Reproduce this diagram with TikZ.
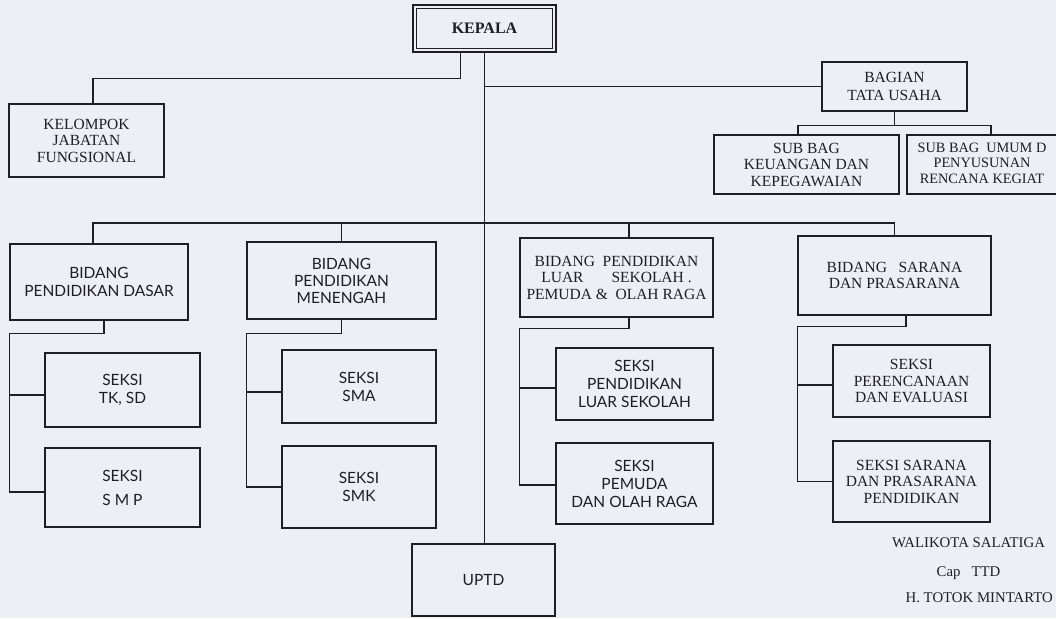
\documentclass[tikz,border=0pt]{standalone}
\usepackage{fontspec}
\setmainfont{Liberation Serif}
\newfontfamily\gsans{Lato}
\definecolor{bg}{RGB}{236,239,243}
\definecolor{ink}{RGB}{30,30,35}
\begin{document}
\begin{tikzpicture}[x=1pt,y=-1pt,
 orgbox/.style={draw=ink, line width=1.2pt, rectangle, inner sep=0pt, align=center, text=ink},
 serifbox/.style={orgbox, font=\fontsize{15.5}{16.5}\selectfont},
 sansbox/.style={orgbox, font=\gsans\fontsize{15.5}{18}\selectfont},
 conn/.style={draw=ink, line width=1.2pt},
 sig/.style={text=ink, font=\fontsize{14.8}{16}\selectfont, inner sep=0pt}]
\fill[bg] (0,0) rectangle (1056,618);
\useasboundingbox (0,0) rectangle (1056,618);
\clip (0,0) rectangle (1056,618);

% boxes
\node[serifbox, minimum width=143pt, minimum height=47pt, line width=2.6pt, font=\bfseries\fontsize{16}{17}\selectfont] (kepala) at (484.5,28.5) {KEPALA};
\draw[ink, line width=1pt] ([shift={(4.5,4.5)}]kepala.north west) rectangle ([shift={(-4.5,-4.5)}]kepala.south east);

\node[serifbox, minimum width=155pt, minimum height=73pt] (kelompok) at (86.5,140.5) {KELOMPOK\\JABATAN\\FUNGSIONAL};
\node[serifbox, minimum width=145pt, minimum height=49pt] (bagian) at (894.5,86.5) {BAGIAN\\[2pt]TATA USAHA};
\node[serifbox, minimum width=185pt, minimum height=59pt] (keuangan) at (806.5,164.5) {SUB BAG\\KEUANGAN DAN\\KEPEGAWAIAN};
\node[orgbox, minimum width=163pt, minimum height=59pt] (umum) at (988.5,164.5) {};
\node[text=ink, align=center, inner sep=0pt, font=\fontsize{14.3}{15.5}\selectfont] (umumtext) at (982,163) {SUB BAG~~UMUM D\\PENYUSUNAN\\RENCANA KEGIAT};

\node[sansbox, minimum width=178pt, minimum height=76pt] (bdasar) at (99,282) {BIDANG\\PENDIDIKAN DASAR};
\node[sansbox, minimum width=189pt, minimum height=77pt, font=\gsans\fontsize{15.5}{17}\selectfont] (bmenengah) at (341.5,280.5) {BIDANG\\PENDIDIKAN\\MENENGAH};
\node[serifbox, minimum width=193pt, minimum height=79pt] (bpls) at (616.5,277.5) {BIDANG~~PENDIDIKAN\\LUAR\hspace{28pt}SEKOLAH .\\PEMUDA \&~~OLAH RAGA};
\node[serifbox, minimum width=193pt, minimum height=79pt] (bsarana) at (894.5,275.5) {BIDANG~~~SARANA\\DAN PRASARANA};

\node[sansbox, minimum width=155pt, minimum height=74pt] (tksd) at (122.5,390) {SEKSI\\TK, SD};
\node[sansbox, minimum width=155pt, minimum height=79pt] (smp) at (122.5,487.5) {SEKSI\\[6pt]S M P};
\node[sansbox, minimum width=154pt, minimum height=73pt] (sma) at (359,386.5) {SEKSI\\SMA};
\node[sansbox, minimum width=154pt, minimum height=82pt] (smk) at (359,487) {SEKSI\\SMK};
\node[sansbox, minimum width=157pt, minimum height=72pt] (spls) at (634.5,384) {SEKSI\\PENDIDIKAN\\LUAR SEKOLAH};
\node[sansbox, minimum width=157pt, minimum height=81pt] (spemuda) at (634.5,483.5) {SEKSI\\PEMUDA\\DAN OLAH RAGA};
\node[serifbox, minimum width=157pt, minimum height=72pt] (sperenc) at (911.5,381) {SEKSI\\PERENCANAAN\\DAN EVALUASI};
\node[serifbox, minimum width=157pt, minimum height=81pt] (ssarana) at (911.5,481.5) {SEKSI~SARANA\\DAN PRASARANA\\PENDIDIKAN};
\node[sansbox, minimum width=143pt, minimum height=72pt] (uptd) at (483.5,580) {UPTD};

% signature
\node[sig] (sig1) at (968.5,543) {WALIKOTA SALATIGA};
\node[sig] (sig2) at (968.5,573) {Cap~~~TTD};
\node[sig, anchor=east] (sig3) at (1053,598) {H. TOTOK MINTARTO};

% connectors
\draw[conn] ([xshift=-24pt]kepala.south) -- ++(0,25) -| ([xshift=6.5pt]kelompok.north);
\draw[conn] (kepala.south) -- (kepala.south |- uptd.north);
\draw[conn] (kepala.south |- bagian.west) -- (bagian.west);
\draw[conn] (bagian.south) -- ++(0,14) coordinate (tu);
\draw[conn] ([xshift=-8.5pt]keuangan.north) |- (tu) -| ([xshift=2.5pt]umum.north);

\coordinate (bus) at (484,223);
\draw[conn] ([xshift=-6pt]bdasar.north) |- (bus) -| (bsarana.north);
\draw[conn] (bmenengah.north) -- ++(0,-19);
\draw[conn] ([xshift=12.5pt]bpls.north) -- ++(0,-15);

\draw[conn] ([xshift=5pt]bdasar.south) -- ++(0,13) -| ([xshift=-35pt,yshift=-4.5pt]smp.west) -- ([yshift=-4.5pt]smp.west);
\draw[conn] ([yshift=-5pt]tksd.west) -- ++(-35,0);
\draw[conn] (bmenengah.south) -- ++(0,14) -| ([xshift=-35pt]smk.west) -- (smk.west);
\draw[conn] ([yshift=-5.5pt]sma.west) -- ++(-35,0);
\draw[conn] ([xshift=12.5pt]bpls.south) -- ++(0,11) -| ([xshift=-36pt,yshift=-1.5pt]spemuda.west) -- ([yshift=-1.5pt]spemuda.west);
\draw[conn] ([yshift=-4pt]spls.west) -- ++(-36,0);
\draw[conn] ([xshift=11.5pt]bsarana.south) -- ++(0,11) -| ([xshift=-35pt]ssarana.west) -- (ssarana.west);
\draw[conn] ([yshift=-4pt]sperenc.west) -- ++(-35,0);
\end{tikzpicture}
\end{document}
